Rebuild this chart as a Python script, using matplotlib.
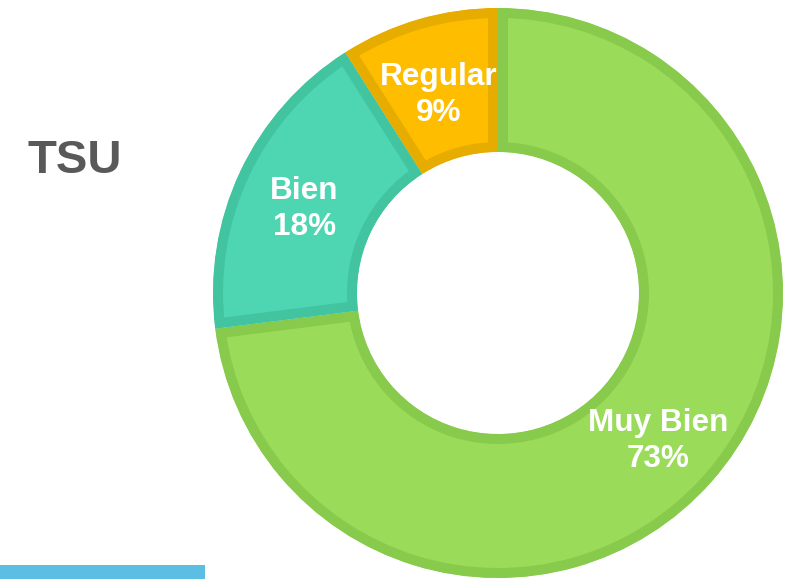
import matplotlib.pyplot as plt

plt.rcParams['font.family'] = ['Liberation Sans', 'DejaVu Sans']

# datos
categorias = ['Muy Bien', 'Bien', 'Regular']
porcentajes = [73, 18, 9]
colores = ['#9ADC5A', '#4DD6B1', '#FFBD00']
bordes = ['#88CA4B', '#43C4A0', '#E6AC00']

fig = plt.figure(figsize=(7.89, 5.79), dpi=100)
ax = fig.add_axes([0, 0, 1, 1])

etiquetas = iter(categorias)

def fmt(pct):
    return '%s\n%d%%' % (next(etiquetas), round(pct))

wedges, textos, pcts = ax.pie(porcentajes, colors=colores, startangle=90,
                              counterclock=False, center=(498, 286), radius=285,
                              autopct=fmt, pctdistance=0.75,
                              wedgeprops=dict(width=144, linewidth=14.4),
                              frame=True)
ax.set_xlim(0, 789)
ax.set_ylim(0, 579)
ax.set_aspect('equal')
ax.axis('off')

# borde por dentro de cada sector
for w, b in zip(wedges, bordes):
    w.set_edgecolor(b)
    w.set_clip_on(True)
    w.set_clip_path(w)

for t in pcts:
    t.set_color('white')
    t.set_fontsize(22.7)
    t.set_fontweight('bold')
    t.set_linespacing(1.25)
    t.set_y(t.get_position()[1] - 7)

ax.text(75, 418, 'TSU', fontsize=34, fontweight='bold', color='#595959',
        ha='center', va='center')

# barra azul
ax.add_patch(plt.Rectangle((0, 0), 205, 14, color='#5DBEE4', lw=0))

fig.savefig('out.png', dpi=100)
